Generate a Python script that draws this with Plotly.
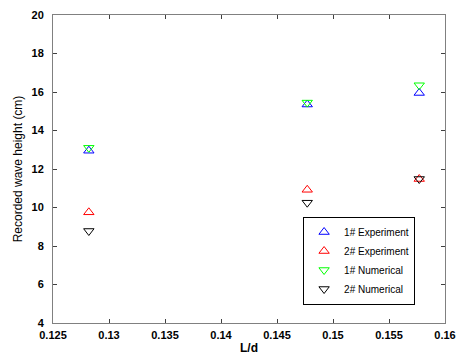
import plotly.graph_objects as go

ld = [0.1282, 0.1477, 0.1577]
exp1 = [12.95, 15.35, 15.95]
exp2 = [9.75, 10.92, 11.48]
num1 = [13.1, 15.45, 16.35]
num2 = [8.78, 10.25, 11.48]

series = [
    ("1# Experiment", exp1, "triangle-up-open", "#0000ff"),
    ("2# Experiment", exp2, "triangle-up-open", "#ff0000"),
    ("1# Numerical", num1, "triangle-down-open", "#00ff00"),
    ("2# Numerical", num2, "triangle-down-open", "#000000"),
]

fig = go.Figure()
for name, vals, sym, col in series:
    fig.add_trace(go.Scatter(x=ld, y=vals, mode="markers", name=name,
                             marker=dict(symbol=sym, size=9, color=col,
                                         line=dict(width=1, color=col))))

tfont = dict(family="Liberation Sans, Arial", size=11, color="black", weight=700)
axis_common = dict(showgrid=False, zeroline=False, showline=True, mirror="ticks",
                   linecolor="#808080", linewidth=1, ticks="inside", ticklen=4,
                   tickcolor="#404040", tickfont=tfont, automargin=False)

fig.update_layout(
    width=459, height=363,
    margin=dict(l=53, r=14, t=15, b=40),
    paper_bgcolor="white", plot_bgcolor="white",
    xaxis=dict(range=[0.125, 0.16], tickvals=[0.125, 0.13, 0.135, 0.14, 0.145, 0.15, 0.155, 0.16],
               ticktext=["0.125", "0.13", "0.135", "0.14", "0.145", "0.15", "0.155", "0.16"],
               ticklabelstandoff=2,
               title=dict(text="L/d", standoff=3,
                          font=dict(family="Liberation Sans, Arial", size=12, color="black", weight=700)),
               **axis_common),
    yaxis=dict(range=[4, 20], tickvals=list(range(4, 21, 2)), ticklabelstandoff=6,
               title=dict(text="Recorded wave height (cm)", standoff=6,
                          font=dict(family="Liberation Sans, Arial", size=12, color="black")),
               **axis_common),
    legend=dict(x=0.638, y=0.06, xanchor="left", yanchor="bottom",
                bgcolor="white", bordercolor="black", borderwidth=1,
                font=dict(family="Liberation Sans, Arial", size=10, color="black"),
                itemwidth=30, tracegroupgap=0),
    showlegend=True,
)

fig.write_html("out.html", config={"displayModeBar": False},
               post_script="document.body.style.margin='0';")
